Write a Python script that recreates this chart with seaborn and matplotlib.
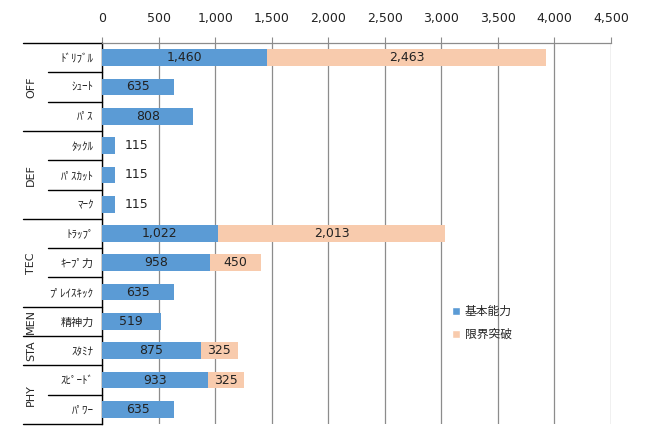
"""Stacked horizontal bar chart of player ability values (base + limit break)."""

import matplotlib

matplotlib.use("Agg")
import matplotlib.pyplot as plt
import matplotlib.transforms as mtransforms
from matplotlib.patches import Patch
import pandas as pd
import seaborn as sns

# ---------------------------------------------------------------------------
# Data
# ---------------------------------------------------------------------------

CATEGORIES = [
    "ﾄﾞﾘﾌﾞﾙ", "ｼｭｰﾄ", "ﾊﾟｽ",
    "ﾀｯｸﾙ", "ﾊﾟｽｶｯﾄ", "ﾏｰｸ",
    "ﾄﾗｯﾌﾟ", "ｷｰﾌﾟ力", "ﾌﾟﾚｲｽｷｯｸ",
    "精神力",
    "ｽﾀﾐﾅ",
    "ｽﾋﾟｰﾄﾞ", "ﾊﾟﾜｰ",
]
GROUPS = ["OFF"] * 3 + ["DEF"] * 3 + ["TEC"] * 3 + ["MEN"] + ["STA"] + ["PHY"] * 2
BASE = [1460, 635, 808, 115, 115, 115, 1022, 958, 635, 519, 875, 933, 635]
EXTRA = [2463, 0, 0, 0, 0, 0, 2013, 450, 0, 0, 325, 325, 0]
X_TICKS = list(range(0, 5000, 500))
SERIES_NAMES = ["基本能力", "限界突破"]

# ---------------------------------------------------------------------------
# Style
# ---------------------------------------------------------------------------

sns.set_style("white")
plt.rcParams["font.family"] = ["DejaVu Sans", "Noto Sans CJK JP"]
JP_FONT = ["Noto Sans CJK JP", "DejaVu Sans"]

BLUE = "#5b9bd5"
PEACH = "#f8cbad"
GRID = "#8c8c8c"

df = pd.DataFrame({"category": CATEGORIES, "group": GROUPS, "base": BASE, "extra": EXTRA})
df["total"] = df["base"] + df["extra"]

fig = plt.figure(figsize=(6.61, 4.45), dpi=100)
ax = fig.add_axes([0.1543, 0.0472, 0.7701, 0.8562])

sns.barplot(data=df, x="total", y="category", color=PEACH, saturation=1,
            orient="h", width=0.57, errorbar=None, linewidth=0, ax=ax, zorder=2)
sns.barplot(data=df, x="base", y="category", color=BLUE, saturation=1,
            orient="h", width=0.57, errorbar=None, linewidth=0, ax=ax, zorder=3)

# value labels
for i, row in df.iterrows():
    if row["base"] >= 300:
        ax.text(row["base"] / 2, i, f"{row['base']:,}", ha="center", va="center",
                fontsize=9, color="#222222", zorder=4)
    else:
        ax.annotate(f"{row['base']:,}", (row["base"], i), xytext=(7, 0),
                    textcoords="offset points", ha="left", va="center",
                    fontsize=9, color="#222222", zorder=4)
    if row["extra"] > 0:
        ax.text(row["base"] + row["extra"] / 2, i, f"{row['extra']:,}", ha="center",
                va="center", fontsize=9, color="#222222", zorder=4)

# x axis on top
ax.set_xlim(0, 4500)
ax.set_xticks(X_TICKS)
ax.set_xticklabels([f"{t:,}" for t in X_TICKS], fontsize=9)
ax.xaxis.tick_top()
ax.tick_params(axis="x", length=4, width=0.8, color=GRID, pad=9, labelcolor="#222222")
ax.set_xlabel("")
ax.set_ylabel("")
ax.grid(axis="x", color=GRID, linewidth=0.9, zorder=0)
ax.set_axisbelow(True)

n = len(CATEGORIES)
ax.set_ylim(n - 0.5, -0.5)
ax.set_yticks(range(n))
ax.set_yticklabels(CATEGORIES, fontsize=8, family=JP_FONT)
ax.tick_params(axis="y", length=0, pad=6)

for side in ["right", "bottom"]:
    ax.spines[side].set_visible(False)
ax.spines["top"].set_color(GRID)
ax.spines["top"].set_linewidth(0.9)
ax.spines["left"].set_color("black")
ax.spines["left"].set_linewidth(1.0)

# hierarchical category axis: separators and group labels
trans = mtransforms.blended_transform_factory(ax.transAxes, ax.transData)
CAT_X = -0.106
GROUP_X = -0.155
edges = [0]
for i in range(1, n):
    if GROUPS[i] != GROUPS[i - 1]:
        edges.append(i)
edges.append(n)
for i in range(n + 1):
    x0 = GROUP_X if i in edges else CAT_X
    ax.plot([x0, 0], [i - 0.5, i - 0.5], color="black", linewidth=1.0,
            transform=trans, clip_on=False)
for start, stop in zip(edges[:-1], edges[1:]):
    ax.text(-0.139, (start + stop - 1) / 2, GROUPS[start], rotation=90,
            ha="center", va="center", fontsize=8, transform=trans)

handles = [Patch(facecolor=BLUE, label=SERIES_NAMES[0]),
           Patch(facecolor=PEACH, label=SERIES_NAMES[1])]
leg = fig.legend(handles=handles, loc="center left", bbox_to_anchor=(0.672, 0.274),
                 frameon=False, handlelength=0.65, handleheight=0.65,
                 handletextpad=0.4, labelspacing=0.85, borderpad=0.2,
                 prop={"family": JP_FONT, "size": 8.5})

fig.savefig("out.png", dpi=100)
